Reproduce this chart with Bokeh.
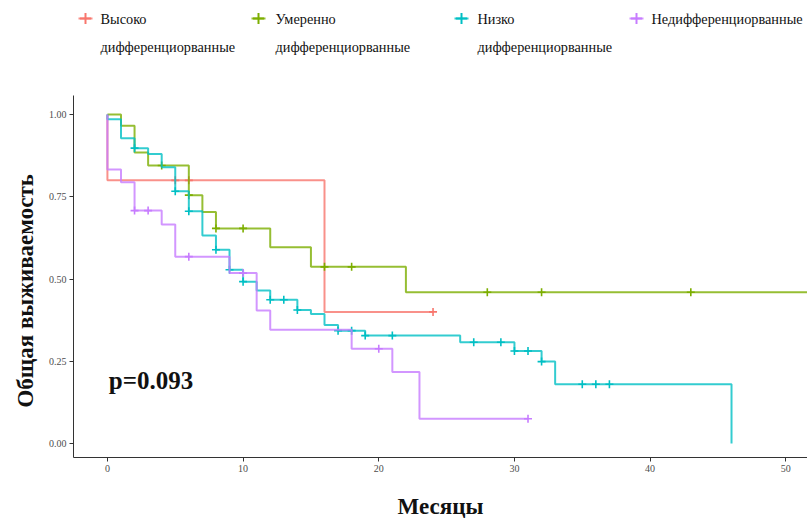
from bokeh.plotting import figure
from bokeh.layouts import column
from bokeh.models import Range1d, Label, FixedTicker, PrintfTickFormatter
from bokeh.embed import file_html
from bokeh.resources import INLINE

# Kaplan-Meier estimates by differentiation grade (months, survival)
legend_line1 = ["Высоко", "Умеренно", "Низко", "Недифференциорванные"]
legend_line2 = ["дифференциорванные", "дифференциорванные", "дифференциорванные", ""]
colors = ["#F8766D", "#7CAE00", "#00BFC4", "#C77CFF"]

high_t = [0, 0, 16, 24]
high_s = [1.0, 0.80, 0.40, 0.40]
high_cens = [5, 6, 24]

mod_t = [0, 1, 2, 3, 6, 7, 8, 12, 15, 22, 54]
mod_s = [1.0, 0.966, 0.885, 0.845, 0.755, 0.704, 0.654, 0.597, 0.537, 0.460, 0.460]
mod_cens = [4, 6, 8, 10, 16, 18, 28, 32, 43]

low_t = [0, 0, 1, 2, 3, 4, 5, 6, 7, 8, 9, 10, 11, 12, 14, 15, 16, 17, 19, 26, 30, 32, 33, 46]
low_s = [1.0, 0.986, 0.928, 0.898, 0.880, 0.840, 0.767, 0.706, 0.632, 0.589, 0.528, 0.492,
         0.465, 0.437, 0.406, 0.394, 0.360, 0.343, 0.328, 0.308, 0.281, 0.249, 0.180, 0.0]
low_cens = [2, 5, 6, 8, 9, 10, 12, 13, 14, 17, 18, 19, 21, 27, 29, 30, 31, 32, 35, 36, 37]

undiff_t = [0, 0, 1, 2, 4, 5, 9, 11, 12, 18, 21, 23, 31]
undiff_s = [1.0, 0.833, 0.794, 0.708, 0.666, 0.568, 0.518, 0.404, 0.346, 0.288, 0.217, 0.075, 0.075]
undiff_cens = [2, 3, 6, 10, 20, 31]

y_ticks = [0.0, 0.25, 0.5, 0.75, 1.0]
x_ticks = [0, 10, 20, 30, 40, 50]
p_value_text = "p=0.093"
x_title = "Месяцы"
y_title = "Общая выживаемость"

curves = [(high_t, high_s, high_cens), (mod_t, mod_s, mod_cens),
          (low_t, low_s, low_cens), (undiff_t, undiff_s, undiff_cens)]


def surv_at(times, surv, t):
    """Step-function value of a KM curve at time t."""
    val = surv[0]
    for ti, si in zip(times, surv):
        if ti <= t:
            val = si
    return val


serif = "Liberation Serif"
narrow = "Liberation Sans Narrow"

# ---- legend strip (pixel-like coordinates) ----
leg = figure(width=807, height=90, x_range=Range1d(73, 807), y_range=Range1d(90, 0),
             output_backend="svg", toolbar_location=None,
             x_axis_location=None, y_axis_location=None,
             min_border_left=73, min_border_right=0, min_border_top=0, min_border_bottom=0)
leg.outline_line_color = None
leg.grid.visible = False
key_x = [85, 258, 461, 636]
text_x = [100, 275, 477, 651]
for kx, tx, c, l1, l2 in zip(key_x, text_x, colors, legend_line1, legend_line2):
    leg.segment(x0=[kx - 7], y0=[18], x1=[kx + 7], y1=[18], line_color=c, line_width=2, line_alpha=0.8)
    leg.scatter(x=[kx], y=[18], marker="cross", size=11, line_color=c, line_width=2)
    leg.add_layout(Label(x=tx, y=18, text=l1, text_font=serif, text_font_size="14.3px",
                         text_color="#111111", text_baseline="middle", text_align="left"))
    if l2:
        leg.add_layout(Label(x=tx, y=46, text=l2, text_font=serif, text_font_size="14.3px",
                             text_color="#111111", text_baseline="middle", text_align="left"))

# ---- survival plot ----
p = figure(width=807, height=431, x_range=Range1d(-2.5, 51.6), y_range=Range1d(-0.0426, 1.058),
           output_backend="svg", toolbar_location=None,
           min_border_left=73, min_border_right=0, min_border_top=5, min_border_bottom=64)
p.outline_line_color = None
p.grid.visible = False

for (t, s, cens), c in zip(curves, colors):
    p.step(x=t, y=s, mode="after", line_color=c, line_width=2, line_alpha=0.8)
    cy = [surv_at(t, s, ct) for ct in cens]
    p.scatter(x=cens, y=cy, marker="cross", size=8, line_color=c, line_width=1.6)

for ax in (p.xaxis[0], p.yaxis[0]):
    ax.axis_line_color = "#333333"
    ax.major_tick_line_color = "#333333"
    ax.major_tick_out = 4
    ax.major_tick_in = 0
    ax.minor_tick_line_color = None
    ax.major_label_text_font = narrow
    ax.major_label_text_font_size = "10px"
    ax.major_label_text_color = "#4d4d4d"
    ax.axis_label_text_font = serif
    ax.axis_label_text_font_style = "bold"
    ax.axis_label_text_font_size = "23px"
    ax.axis_label_text_color = "#111111"
p.xaxis.ticker = FixedTicker(ticks=x_ticks)
p.yaxis.ticker = FixedTicker(ticks=y_ticks)
p.yaxis.formatter = PrintfTickFormatter(format="%.2f")
p.xaxis.major_label_standoff = 3
p.yaxis.major_label_standoff = 3
p.xaxis.axis_label = x_title
p.xaxis.axis_label_standoff = 19
# trailing no-break spaces nudge the rotated title toward the bottom
p.yaxis.axis_label = y_title + "\u00a0" * 5
p.yaxis.axis_label_standoff = 8

p.add_layout(Label(x=0.1, y=0.19, text=p_value_text, text_font=serif, text_font_style="bold",
                   text_font_size="25px", text_color="#111111", text_baseline="middle"))

layout = column(leg, p, spacing=0)
open("out.html", "w").write(file_html(layout, INLINE))
